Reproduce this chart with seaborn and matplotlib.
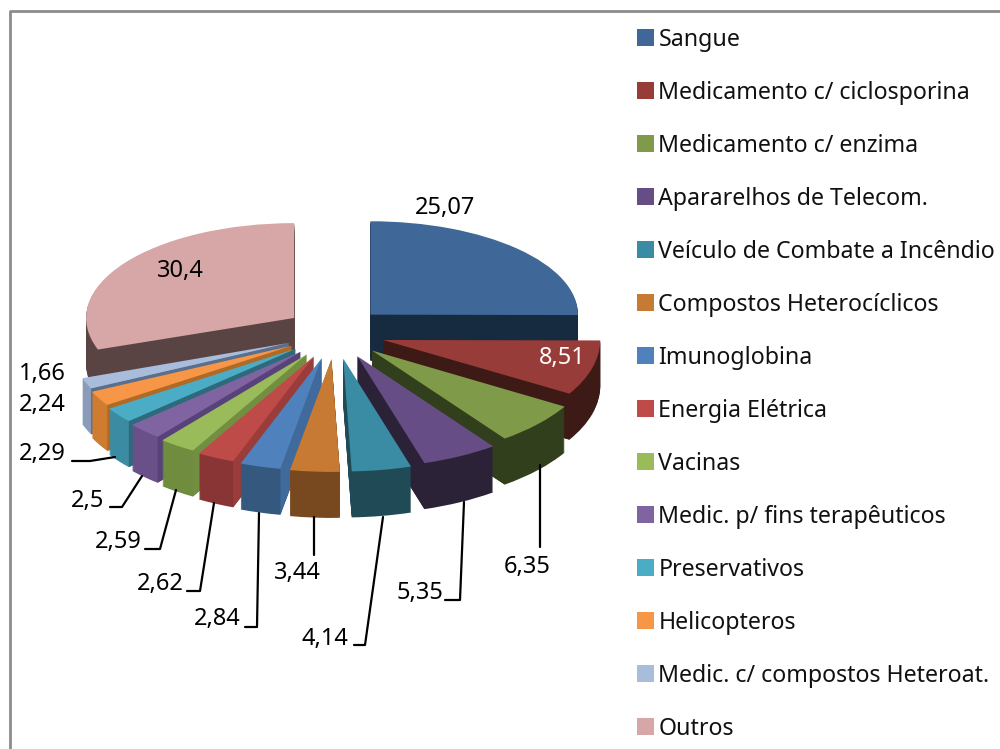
import numpy as np
import matplotlib
matplotlib.use('Agg')
import matplotlib.pyplot as plt
from matplotlib.transforms import Affine2D
import seaborn as sns

sns.set_theme(style='white')
plt.rcParams['font.family'] = ['Noto Sans', 'DejaVu Sans']

categories = ['Sangue', 'Medicamento c/ ciclosporina', 'Medicamento c/ enzima',
              'Apararelhos de Telecom.', 'Veículo de Combate a Incêndio',
              'Compostos Heterocíclicos', 'Imunoglobina', 'Energia Elétrica', 'Vacinas',
              'Medic. p/ fins terapêuticos', 'Preservativos', 'Helicopteros',
              'Medic. c/ compostos Heteroat.', 'Outros']
values = [25.07, 8.51, 6.35, 5.35, 4.14, 3.44, 2.84, 2.62, 2.59, 2.5, 2.29, 2.24, 1.66, 30.4]
value_labels = ['25,07', '8,51', '6,35', '5,35', '4,14', '3,44', '2,84', '2,62', '2,59', '2,5',
                '2,29', '2,24', '1,66', '30,4']

top_colors = ['#3f6797', '#983c3a', '#7f9a48', '#664d85', '#3a8ba4', '#c77a33', '#4f81bd',
              '#be4b48', '#9abb59', '#8064a2', '#4bacc6', '#f79646', '#a8bcdc', '#d7a6a6']
rim_colors = ['#162a40', '#3e1a16', '#323f1c', '#2c2238', '#1f4a56', '#78491f', '#35587f',
              '#8a3535', '#6f8c3f', '#6a5088', '#3b8ca3', '#d07c30', '#8a9cba', '#5a4443']
face_colors = ['#162a40', '#3e1a16', '#323f1c', '#2c2238', '#1f4a56', '#78491f', '#3f6a9b',
               '#9a3d3a', '#728f41', '#57427a', '#2d6a7c', '#b06a28', '#5a6f8c', '#5a4443']

# label anchor (x, y, colour) and leader line for each slice, in figure pixels
label_pos = [(445, 208, 'black'), (562, 358, 'white'), (527, 567, 'black'), (420, 593, 'black'),
             (325, 639, 'black'), (297, 573, 'black'), (217, 619, 'black'), (160, 584, 'black'),
             (118, 542, 'black'), (88, 501, 'black'), (42, 454, 'black'), (42, 405, 'black'),
             (42, 374, 'black'), (180, 271, 'black')]
leaders = [[(540, 465), (540, 547)],
           [(445, 600), (460, 600), (464, 502)],
           [(354, 645), (365, 645), (383, 517)],
           [(314, 517), (314, 555)],
           [(245, 627), (257, 627), (259, 513)],
           [(187, 591), (200, 591), (214, 503)],
           [(145, 549), (160, 549), (176, 490)],
           [(110, 507), (122, 507), (142, 476)],
           [(72, 461), (90, 461), (115, 457)]]

DEPTH = 46
CX, CY = 335, 333

fig = plt.figure(figsize=(10, 7.49), dpi=100)
ax = fig.add_axes([0, 0, 1, 1])

edges = np.concatenate([[0], np.cumsum(values)]) / np.sum(values) * 360
mids = np.radians((edges[:-1] + edges[1:]) / 2)
# back slices are painted first
rank = np.argsort(np.argsort(-np.cos(mids)))


def slice_shape(i):
    t = (1 - np.cos(mids[i])) / 2
    rx, ry = 207 + 25 * t ** 2, 90 + 23 * t
    return CX + 50 * np.sin(mids[i]), CY - 26 * np.cos(mids[i]), rx, ry


def draw_layer(colors, shift, z):
    wedges, _ = ax.pie(values, colors=colors, startangle=90, counterclock=False, radius=1)
    for i, w in enumerate(wedges):
        ax_x, ax_y, rx, ry = slice_shape(i)
        w.set_transform(Affine2D().scale(rx, -ry).translate(ax_x, ax_y + shift) + ax.transData)
        w.set_linewidth(0)
        w.set_zorder(rank[i] * 1000 + z)
    return wedges


for d in range(DEPTH, 0, -1):
    draw_layer(sns.color_palette(rim_colors), d, DEPTH - d)
top = draw_layer(sns.color_palette(top_colors), 0, 900)

# cut faces below the slice edge that looks toward the viewer
for i in range(len(values)):
    ax_x, ax_y, rx, ry = slice_shape(i)
    a = np.radians(edges[i + 1] if mids[i] < np.pi else edges[i])
    ex, ey = ax_x + rx * np.sin(a), ax_y - ry * np.cos(a)
    ax.fill([ax_x, ex, ex, ax_x], [ax_y, ey, ey + DEPTH, ax_y + DEPTH],
            color=face_colors[i], lw=0, zorder=rank[i] * 1000 + 500)

ax.set_aspect('auto')
ax.set_xlim(0, 1000)
ax.set_ylim(749, 0)
ax.axis('off')

for lab, (x, y, c) in zip(value_labels, label_pos):
    ax.text(x, y, lab, color=c, fontsize=17, ha='center', va='center', zorder=20000)
for pts in leaders:
    xs, ys = zip(*pts)
    ax.plot(xs, ys, color='black', lw=1.6, zorder=19000)

ax.plot([10, 10, 1000], [749, 11, 11], color='#8c8c8c', lw=2, zorder=30000, clip_on=False)

ax.legend(top, categories, loc='upper left', bbox_to_anchor=(0.637, 0.963), frameon=False,
          fontsize=16.7, handlelength=0.72, handleheight=0.72, handletextpad=0.2,
          labelspacing=1.25, borderaxespad=0, borderpad=0, labelcolor='#111111')

fig.savefig('out.png', dpi=100)
